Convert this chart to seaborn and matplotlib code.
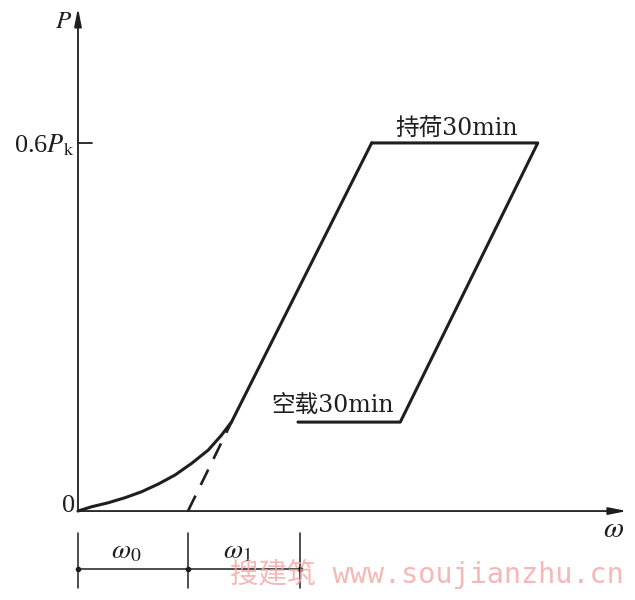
import matplotlib
matplotlib.use("Agg")
import matplotlib.pyplot as plt
import seaborn as sns
import pandas as pd

# ---- data ----
# loading curve: initial curved part then straight up to 0.6Pk
load_x = [0.0, 0.124, 0.275, 0.427, 0.579, 0.730, 0.882, 1.034, 1.185, 1.306, 1.397, 2.67]
load_y = [0.0, 0.007, 0.0135, 0.0217, 0.0315, 0.044, 0.0587, 0.0778, 0.0995, 0.124, 0.1456, 0.60]
# hold 30 min, unload, idle 30 min
cycle_x = [2.67, 4.18, 2.93, 2.00]
cycle_y = [0.60, 0.60, 0.145, 0.145]
# dashed tangent extension down to the w axis
tangent_x = [1.00, 1.397]
tangent_y = [0.0, 0.1456]
# dimension marks on the w axis
dim_x = [0.0, 1.0, 2.02]
dim_labels = [r"$\omega_0$", r"$\omega_1$"]
level_y = 0.6
level_label = r"0.6$P_\mathrm{k}$"
hold_label = "持荷30min"
idle_label = "空载30min"

sns.set_theme(style="white")
plt.rcParams["mathtext.fontset"] = "stix"
plt.rcParams["font.family"] = ["Liberation Serif", "Noto Sans CJK SC"]

ink = "#1e1e1e"
fig = plt.figure(figsize=(6.35, 6.0), dpi=100)
ax = fig.add_axes([0, 0, 1, 1])
ax.set_xlim(-0.709, 5.064)
ax.set_ylim(-0.145, 0.833)
ax.axis("off")

df_load = pd.DataFrame({"w": load_x, "P": load_y})
df_cycle = pd.DataFrame({"w": cycle_x, "P": cycle_y})
df_tan = pd.DataFrame({"w": tangent_x, "P": tangent_y})

sns.lineplot(data=df_load, x="w", y="P", sort=False, estimator=None, ax=ax,
             color=ink, linewidth=2.2)
sns.lineplot(data=df_cycle, x="w", y="P", sort=False, estimator=None, ax=ax,
             color=ink, linewidth=2.2)
ax.plot(df_tan["w"], df_tan["P"], color=ink, linewidth=1.9,
        linestyle=(0, (6.5, 4.5)))

# axes with arrows
arrow_kw = dict(arrowstyle="-|>,head_length=0.9,head_width=0.18", color=ink,
                linewidth=1.3, shrinkA=0, shrinkB=0)
ax.annotate("", xy=(0, 0.820), xytext=(0, 0), arrowprops=arrow_kw)
ax.annotate("", xy=(4.99, 0), xytext=(0, 0), arrowprops=arrow_kw)

# 0.6Pk tick
ax.plot([0, 0.127], [level_y, level_y], color=ink, linewidth=1.3)

# axis texts
ax.text(-0.127, 0.797, r"$P$", fontsize=18, color=ink, ha="center", va="center")
ax.text(-0.03, 0.597, level_label, fontsize=19, color=ink, ha="right", va="center")
ax.text(-0.09, 0.008, "0", fontsize=19, color=ink, ha="center", va="center")
ax.text(4.87, -0.031, r"$\omega$", fontsize=21, color=ink, ha="center", va="center")

# curve labels
lab_font = ["DejaVu Serif", "Noto Sans CJK SC"]
ax.text(3.44, 0.6245, hold_label, fontsize=17, color=ink, ha="center",
        va="center", family=lab_font)
ax.text(2.31, 0.1728, idle_label, fontsize=17, color=ink, ha="center",
        va="center", family=lab_font)

# dimension lines
for xv in dim_x:
    ax.plot([xv, xv], [-0.036, -0.1255], color=ink, linewidth=1.1)
ax.plot([dim_x[0], dim_x[-1]], [-0.0946, -0.0946], color=ink, linewidth=1.1)
ax.plot(dim_x, [-0.0946] * len(dim_x), linestyle="none", marker="o",
        markersize=3, color=ink)
for i, lab in enumerate(dim_labels):
    xm = (dim_x[i] + dim_x[i + 1]) / 2
    ax.text(xm - 0.06, -0.066, lab, fontsize=20, color=ink,
            ha="center", va="center")

# watermark
ax.text(3.17, -0.102, "搜建筑 www.soujianzhu.cn", fontsize=20.5, color="#f4a5a5",
        ha="center", va="center", alpha=0.8,
        family=["DejaVu Sans Mono", "Noto Sans CJK SC"])

fig.savefig("out.png", dpi=100, facecolor="white")
